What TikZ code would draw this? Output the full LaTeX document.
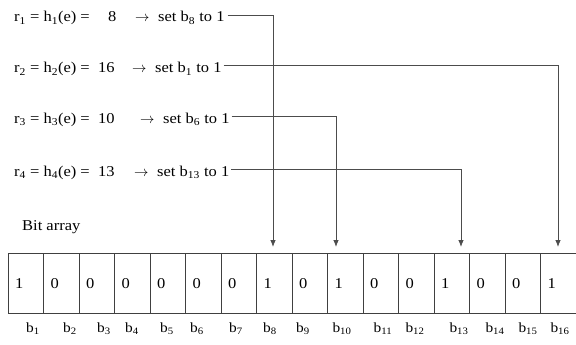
\documentclass[tikz,border=0pt]{standalone}
\usepackage{fontspec}
\setmainfont[FakeStretch=1.1]{Liberation Serif}
\usetikzlibrary{arrows.meta}
\begin{document}
\begin{tikzpicture}[x=1pt,y=-1pt,
  txt/.style={anchor=base west,inner sep=0pt,font=\fontsize{15}{17}\selectfont},
  link/.style={draw=black!70,line width=0.8pt},
  linkarrow/.style={link,-{Latex[length=7pt,width=5.5pt]}},
  cell/.style={draw=black!75,line width=0.8pt,minimum width=35.5pt,minimum height=60pt,inner sep=0pt,outer sep=0pt},
  bitname/.style={anchor=base,inner sep=0pt,font=\fontsize{14}{16}\selectfont}]
\useasboundingbox (0,0) rectangle (576,345);
\fill[white] (0,0) rectangle (576,345);

% hash equations: left side, value, arrow, action
\node[txt] (l1) at (14,22) {r\textsubscript{1} = h\textsubscript{1}(e) =};
\node[txt] (k1) at (108,22) {8};
\node[txt] (a1) at (135,22) {$\rightarrow$};
\node[txt] (e1) at (158,22) {set b\textsubscript{8} to 1};

\node[txt] (l2) at (14,73) {r\textsubscript{2} = h\textsubscript{2}(e) =};
\node[txt] (k2) at (98,73) {16};
\node[txt] (a2) at (132,73) {$\rightarrow$};
\node[txt] (e2) at (155,73) {set b\textsubscript{1} to 1};

\node[txt] (l3) at (14,123) {r\textsubscript{3} = h\textsubscript{3}(e) =};
\node[txt] (k3) at (98,123) {10};
\node[txt] (a3) at (140,123) {$\rightarrow$};
\node[txt] (e3) at (163,123) {set b\textsubscript{6} to 1};

\node[txt] (l4) at (14,176) {r\textsubscript{4} = h\textsubscript{4}(e) =};
\node[txt] (k4) at (98,176) {13};
\node[txt] (a4) at (134,176) {$\rightarrow$};
\node[txt] (e4) at (157,176) {set b\textsubscript{13} to 1};

\node[txt] (title) at (22,230) {Bit array};

% bit array cells
\foreach \v [count=\i] in {1,0,0,0,0,0,0,1,0,1,0,0,1,0,0,1} {
  \node[cell,anchor=north west] (c\i) at ({8+(\i-1)*35.5},253) {};
  \node[txt] (v\i) at ({8+(\i-1)*35.5+7},288) {\v};
}
% bit labels
\foreach \x/\n [count=\i] in {33/1,70/2,104/3,132/4,167/5,197/6,236/7,270/8,303/9,342/10,383/11,415/12,459/13,495/14,528/15,560/16} {
  \node[bitname] (n\i) at (\x,332) {b\textsubscript{\n}};
}

% targets above the cells
\coordinate (t8) at (273,247);
\coordinate (t10) at (336,247);
\coordinate (t13) at (461,247);
\coordinate (t16) at (558,247);

% connectors
\draw[linkarrow] (e1.east) ++(3,-3) -| (t8);
\draw[linkarrow] (e2.east) ++(2,-3) -| (t16);
\draw[linkarrow] (e3.east) ++(2,-3) -| (t10);
\draw[linkarrow] (e4.east) ++(2,-3) -| (t13);
\end{tikzpicture}
\end{document}
